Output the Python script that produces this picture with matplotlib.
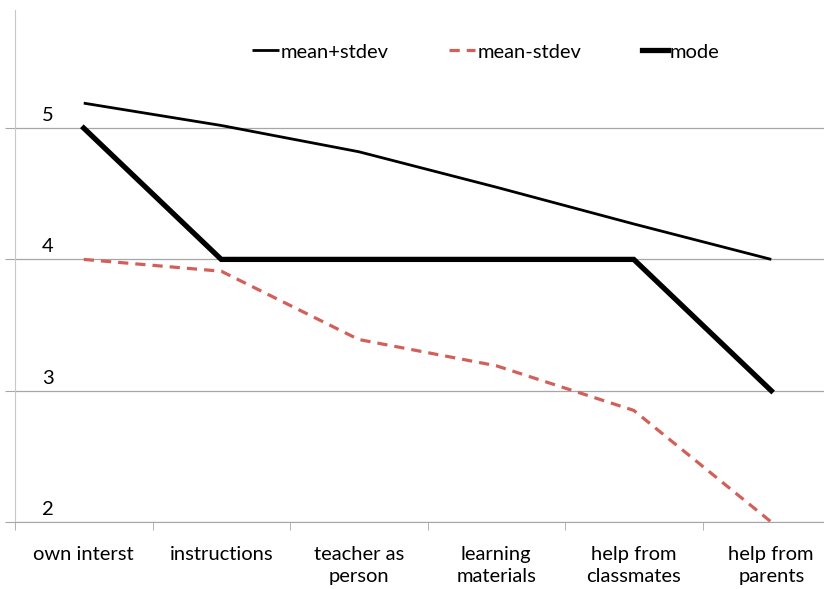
import matplotlib.pyplot as plt
from matplotlib.ticker import FixedLocator
from matplotlib.transforms import blended_transform_factory, offset_copy

plt.rcParams['font.family'] = ['Lato', 'DejaVu Sans']

categories = ['own interst', 'instructions', 'teacher as\nperson', 'learning\nmaterials',
              'help from\nclassmates', 'help from\nparents']
mean_plus = [5.19, 5.02, 4.82, 4.55, 4.27, 4.0]
mean_minus = [4.0, 3.91, 3.39, 3.19, 2.85, 2.0]
mode = [5, 4, 4, 4, 4, 3]
y_ticks = [2, 3, 4, 5]

W, H = 824, 589
FS = 14.5
fig = plt.figure(figsize=(W / 100, H / 100), dpi=100)
ax = fig.add_axes([15 / W, 67 / H, 825 / W, 512 / H])

x = list(range(len(categories)))
ax.plot(x, mean_plus, color='black', lw=2.0, label='mean+stdev', solid_capstyle='butt')
ax.plot(x, mean_minus, color='#d2605a', lw=2.3, ls=(0, (3.2, 2.2)), label='mean-stdev')
ax.plot(x, mode, color='black', lw=3.8, label='mode', solid_joinstyle='miter')

ax.set_xlim(-0.5, 5.5)
ax.set_ylim(2, 2 + 512 / 131.3)

# gridlines, labels sit above the lines
ax.set_yticks(y_ticks)
ax.set_yticklabels([])
ax.tick_params(axis='y', length=7, color='#a6a6a6')
ax.grid(axis='y', color='#a6a6a6', lw=0.9)
tr = offset_copy(blended_transform_factory(fig.transFigure, ax.transData), fig=fig, y=4, units='dots')
for v in y_ticks:
    ax.text(48 / W, v, str(v), transform=tr, ha='center', va='bottom', fontsize=FS)

ax.set_xticks(x)
ax.set_xticklabels(categories, fontsize=FS, linespacing=1.4)
ax.xaxis.set_minor_locator(FixedLocator([i + 0.5 for i in range(-1, len(categories))]))
ax.tick_params(axis='x', which='major', length=0, pad=17)
ax.tick_params(axis='x', which='minor', length=6, color='#a6a6a6')

for s in ['top', 'right']:
    ax.spines[s].set_visible(False)
ax.spines['left'].set_color('#c8c8c8')
ax.spines['bottom'].set_color('#a6a6a6')
ax.set_axisbelow(True)

ax.legend(loc='center', bbox_to_anchor=((486 - 15) / 825, 1 - 42 / 512), ncol=3, frameon=False,
          fontsize=FS, handlelength=1.3, handletextpad=0.1, columnspacing=3.0)

fig.savefig('out.png', dpi=100)
